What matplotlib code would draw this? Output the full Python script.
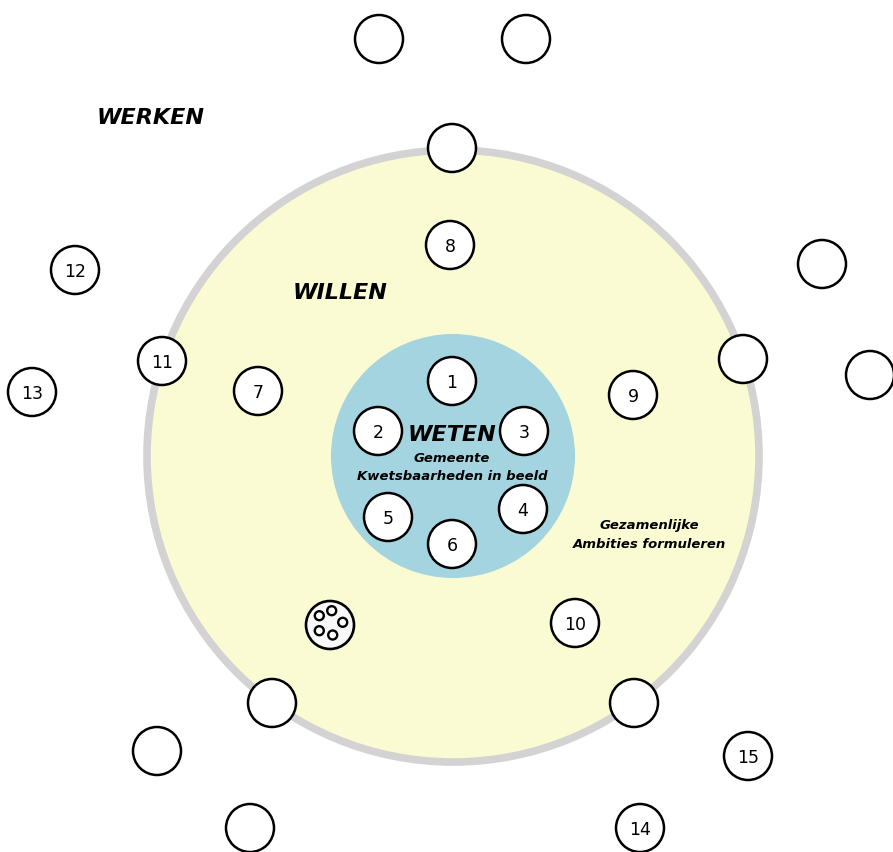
import matplotlib.pyplot as plt
from matplotlib.patches import Circle

# node labels and their centres (pixel coords of the original diagram)
labels = ["1", "2", "3", "4", "5", "6", "7", "8", "9", "10", "11", "12", "13", "14", "15"]
label_x = [452, 378, 524, 523, 388, 452, 258, 450, 633, 575, 162, 75, 32, 640, 748]
label_y = [382, 432, 432, 510, 518, 545, 392, 246, 396, 624, 362, 271, 393, 829, 757]

# empty nodes
blank_x = [379, 526, 452, 822, 743, 870, 272, 634, 157, 250]
blank_y = [40, 40, 149, 265, 360, 376, 704, 704, 752, 829]

# icon node with five dots
icon_xy = (330, 626)
dot_dx = [1.7, 12.7, 2.7, -10.7, -10.7]
dot_dy = [-14.3, -2.7, 10.0, 5.7, -9.3]

center = (453, 457)
outer_r = 306
inner_r = 122
node_r = 24

fig = plt.figure(figsize=(8.93, 8.53), dpi=100)
ax = fig.add_axes([0, 0, 1, 1])
ax.set_xlim(0, 893)
ax.set_ylim(853, 0)
ax.set_aspect("equal")
ax.axis("off")

ax.add_patch(Circle(center, outer_r, facecolor="#fbfbd3", edgecolor="#d3d3d3", lw=5.5, zorder=1))
ax.add_patch(Circle(center, inner_r, facecolor="#a3d4df", edgecolor="none", zorder=2))

for x, y in zip(blank_x, blank_y):
    ax.add_patch(Circle((x, y), node_r, facecolor="white", edgecolor="black", lw=1.8, zorder=3))

for lab, x, y in zip(labels, label_x, label_y):
    ax.add_patch(Circle((x, y), node_r, facecolor="white", edgecolor="black", lw=1.8, zorder=3))
    ax.text(x, y + 1, lab, ha="center", va="center", fontsize=12.5, zorder=4)

ax.add_patch(Circle(icon_xy, node_r, facecolor="#f8f8f8", edgecolor="black", lw=1.9, zorder=3))
for dx, dy in zip(dot_dx, dot_dy):
    ax.add_patch(Circle((icon_xy[0] + dx, icon_xy[1] + dy), 4.5, facecolor="white",
                        edgecolor="black", lw=1.7, zorder=4))

title_kw = dict(ha="center", va="center", fontsize=16, fontweight="bold", fontstyle="italic", zorder=5)
ax.text(151, 118, "WERKEN", **title_kw)
ax.text(340, 293, "WILLEN", **title_kw)
ax.text(452, 435, "WETEN", **title_kw)

sub_kw = dict(ha="center", va="center", fontsize=9.5, fontweight="semibold", fontstyle="italic", zorder=5)
ax.text(452, 458, "Gemeente", **sub_kw)
ax.text(452, 476, "Kwetsbaarheden in beeld", **sub_kw)
ax.text(649, 526, "Gezamenlijke", **sub_kw)
ax.text(649, 545, "Ambities formuleren", **sub_kw)

fig.savefig("out.png", dpi=100, facecolor="white")
